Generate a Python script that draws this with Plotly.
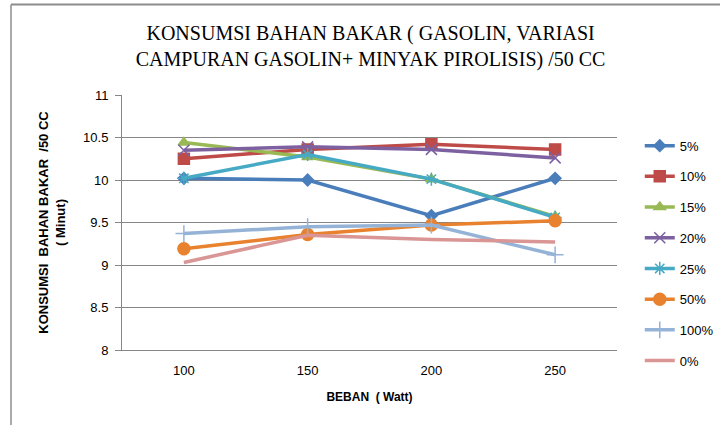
import plotly.graph_objects as go

beban = ["100", "150", "200", "250"]
series_names = ["5%", "10%", "15%", "20%", "25%", "50%", "100%", "0%"]
v_5 = [10.02, 10.00, 9.58, 10.02]
v_10 = [10.25, 10.36, 10.42, 10.36]
v_15 = [10.44, 10.27, 10.01, 9.57]
v_20 = [10.35, 10.39, 10.36, 10.26]
v_25 = [10.02, 10.30, 10.01, 9.56]
v_50 = [9.19, 9.36, 9.47, 9.52]
v_100 = [9.37, 9.45, 9.47, 9.12]
v_0 = [9.03, 9.35, 9.30, 9.27]
y_ticks = [8, 8.5, 9, 9.5, 10, 10.5, 11]
y_tick_labels = ["8", "8.5", "9", "9.5", "10", "10.5", "11"]

values = [v_5, v_10, v_15, v_20, v_25, v_50, v_100, v_0]
colors = ["#4A7EBB", "#BE4B48", "#98B954", "#7D60A0", "#46AAC5", "#E8822F", "#95B3D7", "#D99694"]
symbols = ["diamond", "square", "triangle-up", "x-thin-open", "asterisk-open", "circle", "cross-thin-open", None]
sizes = [9, 11, 10, 11, 11, 12, 12, 0]

fig = go.Figure()
for i, (name, vals) in enumerate(zip(series_names, values)):
    sym = symbols[i]
    mode = "lines+markers" if sym else "lines"
    marker = dict(symbol=sym, size=sizes[i], color=colors[i],
                  line=dict(color=colors[i], width=1.5)) if sym else None
    fig.add_trace(go.Scatter(
        x=beban, y=vals, name=name, mode=mode,
        line=dict(color=colors[i], width=3.5),
        marker=marker, legendgroup=name,
    ))

fig.update_layout(
    width=721, height=425,
    paper_bgcolor="white", plot_bgcolor="white",
    margin=dict(l=122, r=104, t=95, b=75, autoexpand=False),
    font=dict(family="Liberation Sans", color="#000000", size=13),
    title=dict(
        text="KONSUMSI BAHAN BAKAR ( GASOLIN, VARIASI<br>CAMPURAN GASOLIN+ MINYAK PIROLISIS) /50 CC",
        x=0.514, xanchor="center", y=0.906, yanchor="middle",
        font=dict(family="Liberation Sans Narrow", size=20, color="#000000"),
    ),
    legend=dict(
        x=1.046, xanchor="left", y=0.860, yanchor="top",
        font=dict(size=13, family="Liberation Sans"),
        traceorder="grouped", tracegroupgap=10.8,
        itemwidth=30, bgcolor="rgba(0,0,0,0)",
    ),
    showlegend=True,
)

fig.update_xaxes(
    type="category", range=[-0.5, 3.5], showgrid=False, showline=True, linecolor="#868686", linewidth=1,
    ticks="", ticklabelstandoff=8, tickfont=dict(size=13, family="Liberation Sans"),
    title=dict(text="<b>BEBAN  ( Watt)</b>", font=dict(size=12, family="Liberation Sans"), standoff=16),
)
fig.update_yaxes(
    range=[8, 11], tickvals=y_ticks, ticktext=y_tick_labels,
    showgrid=True, gridcolor="#868686", gridwidth=1,
    showline=True, linecolor="#868686", linewidth=1,
    ticks="outside", ticklen=6, tickcolor="#868686", ticklabelstandoff=4,
    tickfont=dict(size=13, family="Liberation Sans"),
    zeroline=False,
    title=dict(text="<b>KONSUMSI  BAHAN BAKAR  /50 CC<br>( Minut)</b>",
               font=dict(size=13, family="Liberation Sans"), standoff=14),
)

# outer chart frame (only left and top edges visible in the crop)
fx0 = (11 - 122) / 495
fy1 = 1 + (95 - 4.5) / 255
fig.add_shape(type="line", xref="paper", yref="paper", x0=fx0, x1=(720 - 122) / 495, y0=fy1, y1=fy1,
              line=dict(color="#8C8C8C", width=2))
fig.add_shape(type="line", xref="paper", yref="paper", x0=fx0, x1=fx0, y0=-0.4, y1=fy1,
              line=dict(color="#8C8C8C", width=1.5))

fig.write_html("out.html", config={"displayModeBar": False},
               post_script="document.body.style.margin='0';document.body.style.padding='0';")
